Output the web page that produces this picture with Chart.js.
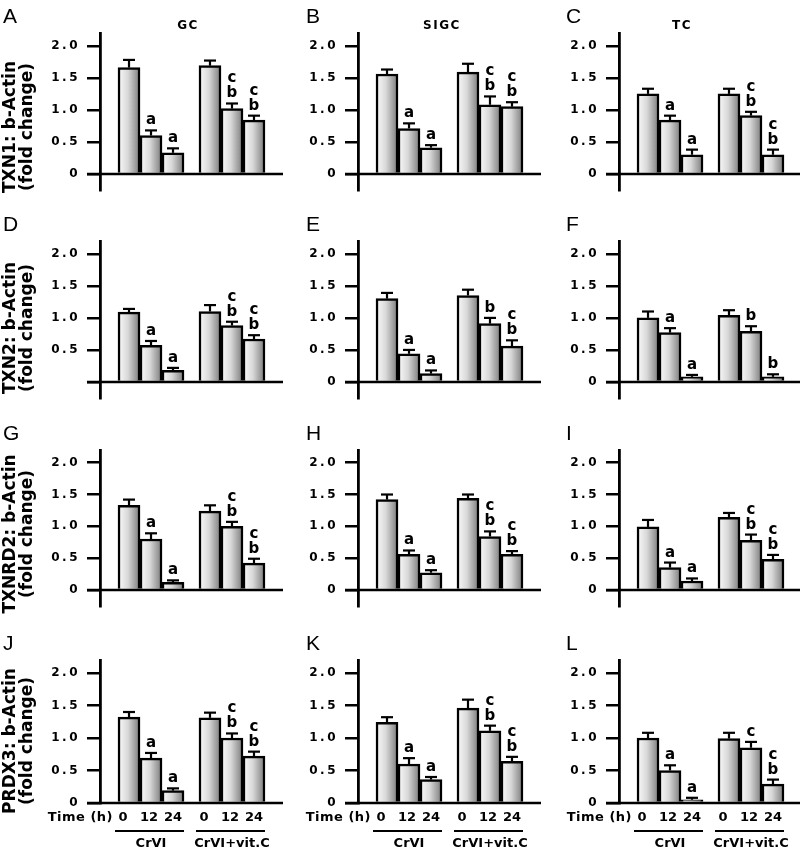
<!DOCTYPE html>
<html>
<head>
<meta charset="utf-8">
<script src="https://cdn.jsdelivr.net/npm/chart.js@4.4.1/dist/chart.umd.min.js"></script>
<style>
  html, body { margin: 0; padding: 0; background: #fff; overflow: hidden; }
  #fig { position: relative; width: 800px; height: 855px; }
  #fig canvas { position: absolute; }
</style>
</head>
<body>
<div id="fig"></div>
<script>
// categories
const timePoints = ['0', '12', '24'];
const treatments = ['CrVI', 'CrVI+vit.C'];
const cellTypes = ['GC', 'SIGC', 'TC'];
const genes = ['TXN1', 'TXN2', 'TXNRD2', 'PRDX3'];
const panelLetters = ['A', 'B', 'C', 'D', 'E', 'F', 'G', 'H', 'I', 'J', 'K', 'L'];
const yTickValues = [0, 0.5, 1.0, 1.5, 2.0];
const noZeroLabel = ['D'];

// fold change (mean, SEM, letters) - order: CrVI 0/12/24 h, CrVI+vit.C 0/12/24 h
// letters: space separated, top line first
const meanA = [1.66, 0.60, 0.33, 1.69, 1.02, 0.84];
const semA  = [0.12, 0.08, 0.07, 0.08, 0.08, 0.07];
const sigA  = ['', 'a', 'a', '', 'c b', 'c b'];

const meanB = [1.56, 0.71, 0.41, 1.59, 1.08, 1.05];
const semB  = [0.07, 0.08, 0.04, 0.13, 0.13, 0.07];
const sigB  = ['', 'a', 'a', '', 'c b', 'c b'];

const meanC = [1.25, 0.84, 0.30, 1.25, 0.91, 0.30];
const semC  = [0.08, 0.07, 0.08, 0.08, 0.06, 0.08];
const sigC  = ['', 'a', 'a', '', 'c b', 'c b'];

const meanD = [1.09, 0.57, 0.18, 1.10, 0.88, 0.67];
const semD  = [0.05, 0.07, 0.04, 0.10, 0.06, 0.06];
const sigD  = ['', 'a', 'a', '', 'c b', 'c b'];

const meanE = [1.30, 0.44, 0.13, 1.35, 0.91, 0.56];
const semE  = [0.09, 0.06, 0.05, 0.09, 0.09, 0.09];
const sigE  = ['', 'a', 'a', '', 'b', 'c b'];

const meanF = [1.00, 0.77, 0.08, 1.04, 0.79, 0.08];
const semF  = [0.10, 0.07, 0.03, 0.08, 0.08, 0.04];
const sigF  = ['', 'a', 'a', '', 'b', 'b'];

const meanG = [1.33, 0.80, 0.12, 1.24, 1.00, 0.42];
const semG  = [0.09, 0.09, 0.03, 0.09, 0.07, 0.07];
const sigG  = ['', 'a', 'a', '', 'c b', 'c b'];

const meanH = [1.42, 0.56, 0.27, 1.44, 0.84, 0.56];
const semH  = [0.08, 0.06, 0.04, 0.06, 0.08, 0.05];
const sigH  = ['', 'a', 'a', '', 'c b', 'c b'];

const meanI = [0.99, 0.35, 0.14, 1.14, 0.78, 0.48];
const semI  = [0.11, 0.08, 0.04, 0.07, 0.09, 0.07];
const sigI  = ['', 'a', 'a', '', 'c b', 'c b'];

const meanJ = [1.32, 0.69, 0.19, 1.31, 1.00, 0.72];
const semJ  = [0.08, 0.08, 0.035, 0.08, 0.07, 0.07];
const sigJ  = ['', 'a', 'a', '', 'c b', 'c b'];

const meanK = [1.24, 0.60, 0.36, 1.46, 1.11, 0.64];
const semK  = [0.08, 0.09, 0.04, 0.13, 0.08, 0.07];
const sigK  = ['', 'a', 'a', '', 'c b', 'c b'];

const meanL = [1.00, 0.50, 0.05, 0.99, 0.85, 0.29];
const semL  = [0.08, 0.08, 0.03, 0.09, 0.09, 0.07];
const sigL  = ['', 'a', 'a', '', 'c', 'c b'];

const panels = [
  [meanA, semA, sigA], [meanB, semB, sigB], [meanC, semC, sigC],
  [meanD, semD, sigD], [meanE, semE, sigE], [meanF, semF, sigF],
  [meanG, semG, sigG], [meanH, semH, sigH], [meanI, semI, sigI],
  [meanJ, semJ, sigJ], [meanK, semK, sigK], [meanL, semL, sigL]
];

// layout (px)
const COL_LEFT = [0, 258, 519];
const ROW_TOP = [0, 205, 415, 625];
const ROW_H = [205, 210, 205, 230];
const AREA_TOP = [33, 36, 35, 35];
const AREA_BOTTOM = [190, 193, 192, 178];
const CANVAS_W = 283;
const AXIS_X = 100;
const BAR_W = 22;
const TICK_LEN = 13;
const TITLE_Y = [127, 123, 119, 116];
const COLTITLE_X = [188, 184, 163];
const LETTER_X = [3, 48, 47];
const TIME_NUDGE = [-6, -2, 0];

const fig = document.getElementById('fig');

function gradientFor(ctx, cx) {
  const g = ctx.createLinearGradient(cx - BAR_W / 2, 0, cx + BAR_W / 2, 0);
  g.addColorStop(0, '#fbfbfb');
  g.addColorStop(0.45, '#d8d8d8');
  g.addColorStop(1, '#7a7a7a');
  return g;
}

function text(ctx, s, x, y, font, align, base, spacing) {
  ctx.save();
  ctx.font = font;
  ctx.textAlign = align;
  ctx.textBaseline = base;
  ctx.fillStyle = '#000';
  ctx.letterSpacing = spacing || '0px';
  ctx.fillText(s, x, y);
  ctx.restore();
}

function line(ctx, x1, y1, x2, y2, w) {
  ctx.save();
  ctx.strokeStyle = '#000';
  ctx.lineWidth = w;
  ctx.beginPath();
  ctx.moveTo(x1, y1);
  ctx.lineTo(x2, y2);
  ctx.stroke();
  ctx.restore();
}

function decorPlugin(r, c, p) {
  return {
    id: 'decor',
    beforeDraw(chart) {
      chart.ctx.letterSpacing = '2.5px'; // wide tick numbers
    },
    beforeDatasetsDraw(chart) {
      chart.ctx.letterSpacing = '0px';
      // shaded bar fill, placed on each bar once the layout is known
      chart.data.datasets.forEach((ds, d) => {
        chart.getDatasetMeta(d).data.forEach(bar => {
          bar.options = Object.assign({}, bar.options, { backgroundColor: gradientFor(chart.ctx, bar.x) });
        });
      });
    },
    afterDatasetsDraw(chart) {
      const ctx = chart.ctx;
      const area = chart.chartArea;
      const ys = chart.scales.y;
      const y0 = ys.getPixelForValue(0);

      // x axis at zero
      line(ctx, area.left - TICK_LEN, y0, area.right, y0, 2.5);

      // error bars + letters
      chart.data.datasets.forEach((ds, d) => {
        const meta = chart.getDatasetMeta(d);
        meta.data.forEach((bar, i) => {
          const k = i * 3 + d;
          const top = ys.getPixelForValue(p[0][k] + p[1][k]);
          line(ctx, bar.x, bar.y, bar.x, top, 2.2);
          line(ctx, bar.x - 6, top, bar.x + 6, top, 2.2);
          const rows = p[2][k] ? p[2][k].split(' ').reverse() : [];
          rows.forEach((s, j) => {
            text(ctx, s, bar.x, top - 6 - j * 15, 'bold 15px "DejaVu Sans"', 'center', 'alphabetic');
          });
        });
      });
    },
    afterDraw(chart) {
      const ctx = chart.ctx;
      const area = chart.chartArea;
      const ys = chart.scales.y;
      const y0 = ys.getPixelForValue(0);

      text(ctx, panelLetters[r * 3 + c], LETTER_X[c], area.top - 10, '21px "Liberation Sans"', 'left', 'alphabetic');

      if (r === 0) {
        text(ctx, cellTypes[c], COLTITLE_X[c], 26, 'bold 12px "DejaVu Sans"', 'center', 'middle', '1.5px');
      }

      if (c === 0) {
        ctx.save();
        ctx.translate(11, TITLE_Y[r]);
        ctx.rotate(-Math.PI / 2);
        text(ctx, genes[r] + ': b-Actin', 0, 0, 'bold 17px "DejaVu Sans"', 'center', 'middle');
        text(ctx, '(fold change)', 0, 17, 'bold 17px "DejaVu Sans"', 'center', 'middle');
        ctx.restore();
      }

      if (r === 3) {
        const bars = [0, 1, 2].map(d => chart.getDatasetMeta(d).data);
        const first = bars[0][0];
        text(ctx, 'Time (h)', first.x - 16, y0 + 15, 'bold 13px "DejaVu Sans"', 'right', 'middle', '0.5px');
        treatments.forEach((g, i) => {
          timePoints.forEach((t, d) => {
            text(ctx, t, bars[d][i].x + TIME_NUDGE[d], y0 + 15, 'bold 13px "DejaVu Sans"', 'center', 'middle');
          });
          const left = bars[0][i].x - BAR_W / 2 - 3;
          const right = bars[2][i].x + BAR_W / 2;
          line(ctx, left, y0 + 28, right, y0 + 28, 2);
          text(ctx, g, bars[1][i].x, y0 + 41, 'bold 13px "DejaVu Sans"', 'center', 'middle');
        });
      }
    }
  };
}

function makePanel(r, c) {
  const idx = r * 3 + c;
  const p = panels[idx];
  const last = r === 3;
  const hideZero = noZeroLabel.includes(panelLetters[idx]);

  const cv = document.createElement('canvas');
  cv.width = CANVAS_W;
  cv.height = ROW_H[r];
  cv.style.left = COL_LEFT[c] + 'px';
  cv.style.top = ROW_TOP[r] + 'px';
  cv.style.width = CANVAS_W + 'px';
  cv.style.height = ROW_H[r] + 'px';
  fig.appendChild(cv);

  const datasets = timePoints.map((t, d) => ({
    label: t + ' h',
    data: treatments.map((g, i) => ({ x: i, y: p[0][i * 3 + d] })),
    backgroundColor: '#cccccc',
    borderColor: '#000',
    borderWidth: 2.5,
    barThickness: BAR_W
  }));

  new Chart(cv, {
    type: 'bar',
    data: { datasets },
    options: {
      responsive: false,
      animation: false,
      devicePixelRatio: 1,
      layout: { padding: { left: 0, right: 0, top: AREA_TOP[r], bottom: ROW_H[r] - AREA_BOTTOM[r] } },
      plugins: { legend: { display: false }, tooltip: { enabled: false } },
      scales: {
        x: {
          type: 'linear', min: -0.63, max: 1.63, offset: false,
          ticks: { display: false },
          grid: { display: false, drawTicks: false },
          border: { display: false }
        },
        y: {
          min: last ? 0 : -0.25,
          max: 2.2,
          afterFit: s => { s.width = AXIS_X; },
          afterBuildTicks: s => { s.ticks = yTickValues.map(v => ({ value: v })); },
          border: { display: true, color: '#000', width: 2.8 },
          grid: { drawOnChartArea: false, drawTicks: true, tickLength: TICK_LEN, tickWidth: 2.5, tickColor: '#000', color: '#000', lineWidth: 2.5 },
          ticks: {
            padding: 7,
            color: '#000',
            font: { family: 'DejaVu Sans', weight: 'bold', size: 12 },
            callback: v => v === 0 ? (hideZero ? '' : '0') : v.toFixed(1)
          }
        }
      }
    },
    plugins: [decorPlugin(r, c, p)]
  });
}

for (let r = 0; r < 4; r++) {
  for (let c = 0; c < 3; c++) makePanel(r, c);
}
</script>
</body>
</html>
